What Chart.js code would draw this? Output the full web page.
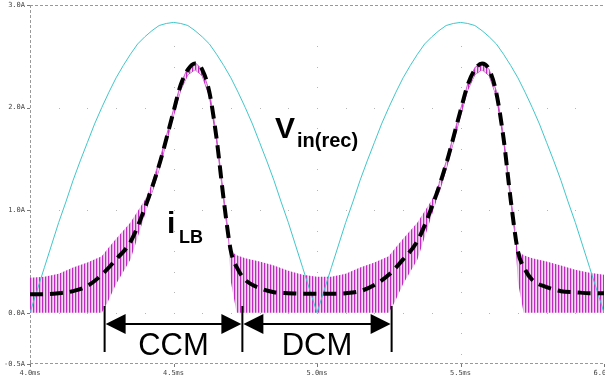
<!DOCTYPE html>
<html>
<head>
<meta charset="utf-8">
<script src="https://cdn.jsdelivr.net/npm/chart.js@4.4.1/dist/chart.umd.min.js"></script>
<style>
  html, body { margin: 0; padding: 0; background: #fff; }
</style>
</head>
<body>
<canvas id="boostChart" width="605" height="381"></canvas>
<script>
// axis ticks
const xTicks = [4.0, 4.5, 5.0, 5.5, 6.0];        // ms
const yTicks = [-0.5, 0.0, 1.0, 2.0, 3.0];       // A

// rectified input voltage, one sample every 0.025 ms from 4.0 ms
const vinValues = [
  0.00, 0.22, 0.44, 0.66, 0.88, 1.08, 1.29, 1.48, 1.66, 1.84,
  2.00, 2.15, 2.29, 2.41, 2.52, 2.62, 2.69, 2.75, 2.80, 2.82,
  2.83, 2.82, 2.80, 2.75, 2.69, 2.62, 2.52, 2.41, 2.29, 2.15,
  2.00, 1.84, 1.66, 1.48, 1.29, 1.08, 0.88, 0.66, 0.44, 0.22,
  0.00, 0.22, 0.44, 0.66, 0.88, 1.08, 1.29, 1.48, 1.66, 1.84,
  2.00, 2.15, 2.29, 2.41, 2.52, 2.62, 2.69, 2.75, 2.80, 2.82,
  2.83, 2.82, 2.80, 2.75, 2.69, 2.62, 2.52, 2.41, 2.29, 2.15,
  2.00, 1.84, 1.66, 1.48, 1.29, 1.08, 0.88, 0.66, 0.44, 0.22,
  0.00
];
const vinStart = 4.0;
const vinStep = 0.025;

// averaged inductor current (dashed)
const avgTime = [
  4.000, 4.050, 4.100, 4.150, 4.200, 4.250, 4.300, 4.350, 4.400, 4.450,
  4.500, 4.525, 4.550, 4.575, 4.600, 4.625, 4.650, 4.675, 4.700, 4.725,
  4.750, 4.800, 4.850, 4.900, 4.950, 5.000, 5.050, 5.100, 5.150, 5.200,
  5.250, 5.300, 5.350, 5.400, 5.450, 5.500, 5.525, 5.550, 5.575, 5.600,
  5.625, 5.650, 5.675, 5.700, 5.725, 5.750, 5.800, 5.850, 5.900, 5.950,
  6.000
];
const avgCurrent = [
  0.18, 0.18, 0.19, 0.21, 0.26, 0.37, 0.52, 0.69, 1.02, 1.44,
  1.96, 2.22, 2.37, 2.43, 2.37, 2.15, 1.70, 1.10, 0.60, 0.42,
  0.32, 0.24, 0.20, 0.19, 0.185, 0.185, 0.185, 0.19, 0.21, 0.27,
  0.37, 0.52, 0.70, 1.03, 1.45, 1.97, 2.22, 2.37, 2.43, 2.37,
  2.14, 1.70, 1.10, 0.60, 0.42, 0.32, 0.25, 0.21, 0.20, 0.19,
  0.19
];

// switching ripple of iLB: valley and peak envelopes
const iTime = [
  4.000, 4.050, 4.100, 4.150, 4.200, 4.250, 4.270, 4.300, 4.350, 4.400,
  4.425, 4.450, 4.475, 4.500, 4.525, 4.550, 4.575, 4.600, 4.625, 4.650,
  4.675, 4.690, 4.700, 4.720, 4.750, 4.800, 4.850, 4.900, 4.950, 5.000,
  5.050, 5.100, 5.150, 5.200, 5.250, 5.270, 5.300, 5.350, 5.400, 5.425,
  5.450, 5.475, 5.500, 5.525, 5.550, 5.575, 5.600, 5.625, 5.650, 5.675,
  5.690, 5.700, 5.720, 5.750, 5.800, 5.850, 5.900, 5.950, 6.000
];
const iValley = [
  0.00, 0.00, 0.00, 0.00, 0.00, 0.00, 0.10, 0.28, 0.52, 0.95,
  1.17, 1.40, 1.66, 1.92, 2.17, 2.32, 2.37, 2.31, 2.11, 1.68,
  1.09, 0.76, 0.30, 0.00, 0.00, 0.00, 0.00, 0.00, 0.00, 0.00,
  0.00, 0.00, 0.00, 0.00, 0.00, 0.10, 0.28, 0.52, 0.95, 1.17,
  1.40, 1.66, 1.92, 2.17, 2.32, 2.37, 2.31, 2.11, 1.68, 1.09,
  0.76, 0.30, 0.00, 0.00, 0.00, 0.00, 0.00, 0.00, 0.00
];
const iPeak = [
  0.34, 0.35, 0.38, 0.44, 0.49, 0.55, 0.62, 0.72, 0.88, 1.10,
  1.26, 1.47, 1.72, 1.98, 2.23, 2.39, 2.44, 2.37, 2.16, 1.72,
  1.13, 0.80, 0.60, 0.56, 0.53, 0.50, 0.46, 0.41, 0.37, 0.35,
  0.35, 0.38, 0.44, 0.49, 0.55, 0.62, 0.72, 0.88, 1.10, 1.26,
  1.47, 1.72, 1.98, 2.23, 2.39, 2.44, 2.37, 2.16, 1.72, 1.13,
  0.80, 0.60, 0.56, 0.53, 0.50, 0.46, 0.42, 0.39, 0.37
];

// CCM / DCM interval markers (ms)
const ccmStart = 4.26;
const ccmEnd = 4.74;
const dcmEnd = 5.26;

const toPoints = (xs, ys) => xs.map((t, i) => ({ x: t, y: ys[i] }));
const vinPoints = vinValues.map((v, i) => ({ x: vinStart + i * vinStep, y: v }));

// vertical stripes for the dense switching waveform
function stripePattern() {
  const c = document.createElement('canvas');
  c.width = 3; c.height = 1;
  const g = c.getContext('2d');
  g.fillStyle = '#bf2abf'; g.fillRect(0, 0, 1, 1);
  g.fillStyle = '#e2aee2'; g.fillRect(1, 0, 1, 1);
  g.fillStyle = '#f2d8f2'; g.fillRect(2, 0, 1, 1);
  return g.createPattern(c, 'repeat');
}

// outline only where the ripple band collapses to a thin trace
const thinOnly = color => ctx => {
  const i = ctx.p0DataIndex;
  const wide = iPeak[i] - iValley[i] > 0.12 || iPeak[i + 1] - iValley[i + 1] > 0.12;
  return wide ? 'rgba(0,0,0,0)' : color;
};

const tickFont = { family: '"DejaVu Sans Mono", monospace', size: 7 };

// scope-like frame and dotted grid
const scopeGrid = {
  id: 'scopeGrid',
  beforeDatasetsDraw(chart) {
    const { ctx, chartArea: a, scales: { x, y } } = chart;
    ctx.save();
    ctx.strokeStyle = '#999';
    ctx.lineWidth = 1;
    ctx.setLineDash([3, 2]);
    ctx.beginPath();
    ctx.moveTo(a.left, Math.round(a.top) + 0.5);
    ctx.lineTo(a.right, Math.round(a.top) + 0.5);
    ctx.moveTo(a.left, Math.round(a.bottom) - 0.5);
    ctx.lineTo(a.right, Math.round(a.bottom) - 0.5);
    ctx.moveTo(Math.round(a.left) + 0.5, a.top);
    ctx.lineTo(Math.round(a.left) + 0.5, a.bottom);
    ctx.stroke();
    ctx.setLineDash([]);

    ctx.fillStyle = '#b4b4b4';
    [0, 1, 2].forEach(v => {
      const py = Math.round(y.getPixelForValue(v));
      for (let k = 1; k < 20; k++) {
        ctx.fillRect(Math.round(x.getPixelForValue(4 + k * 0.1)), py, 1, 1);
      }
    });
    [4.5, 5.0, 5.5].forEach(t => {
      const px = Math.round(x.getPixelForValue(t));
      for (let k = 1; k < 17; k++) {
        ctx.fillRect(px, Math.round(y.getPixelForValue(-0.6 + k * 0.2)), 1, 1);
      }
    });

    // small tick marks
    ctx.strokeStyle = '#777';
    ctx.beginPath();
    yTicks.forEach(v => {
      const py = Math.round(y.getPixelForValue(v)) + 0.5;
      ctx.moveTo(a.left - 3, py); ctx.lineTo(a.left, py);
    });
    xTicks.forEach(t => {
      const px = Math.round(x.getPixelForValue(t)) + 0.5;
      ctx.moveTo(px, a.bottom); ctx.lineTo(px, a.bottom + 3);
    });
    ctx.stroke();
    ctx.restore();
  }
};

// labels and CCM / DCM arrows
const notes = {
  id: 'notes',
  afterDatasetsDraw(chart) {
    const { ctx, scales: { x, y } } = chart;
    ctx.save();
    ctx.fillStyle = '#000';
    ctx.strokeStyle = '#000';
    ctx.textBaseline = 'alphabetic';

    ctx.font = 'bold 30px "Liberation Sans", Arial, sans-serif';
    ctx.fillText('V', 275, 138);
    ctx.font = 'bold 20px "Liberation Sans", Arial, sans-serif';
    ctx.fillText('in(rec)', 297, 147);

    ctx.font = 'bold 30px "Liberation Sans", Arial, sans-serif';
    ctx.fillText('i', 167, 233);
    ctx.font = 'bold 18px "Liberation Sans", Arial, sans-serif';
    ctx.fillText('LB', 179, 243);

    const ay = Math.round(y.getPixelForValue(-0.11));
    const x0 = x.getPixelForValue(ccmStart);
    const x1 = x.getPixelForValue(ccmEnd);
    const x2 = x.getPixelForValue(dcmEnd);

    ctx.lineWidth = 2;
    ctx.beginPath();
    [x0, x1, x2].forEach(px => {
      ctx.moveTo(px, 306); ctx.lineTo(px, 352);
    });
    ctx.moveTo(x0 + 10, ay); ctx.lineTo(x1 - 10, ay);
    ctx.moveTo(x1 + 10, ay); ctx.lineTo(x2 - 10, ay);
    ctx.stroke();

    const head = (tip, dir) => {
      ctx.beginPath();
      ctx.moveTo(tip, ay);
      ctx.lineTo(tip + dir * 20, ay - 10);
      ctx.lineTo(tip + dir * 20, ay + 10);
      ctx.closePath();
      ctx.fill();
    };
    head(x0 + 1, 1);
    head(x1 - 1, -1);
    head(x1 + 1, 1);
    head(x2 - 1, -1);

    ctx.font = '31px "Liberation Sans", Arial, sans-serif';
    ctx.textAlign = 'center';
    ctx.fillText('CCM', (x0 + x1) / 2, 355);
    ctx.fillText('DCM', (x1 + x2) / 2, 355);
    ctx.restore();
  }
};

new Chart(document.getElementById('boostChart'), {
  type: 'line',
  data: {
    datasets: [
      {
        label: 'iLB avg',
        data: toPoints(avgTime, avgCurrent),
        borderColor: '#000',
        borderWidth: 4,
        borderDash: [13, 7],
        borderCapStyle: 'butt',
        cubicInterpolationMode: 'monotone',
        fill: false,
        order: 0
      },
      {
        label: 'Vin(rec)',
        data: vinPoints,
        borderColor: '#40c6ca',
        borderWidth: 1,
        tension: 0,
        fill: false,
        order: 1
      },
      {
        label: 'iLB peak',
        data: toPoints(iTime, iPeak),
        borderColor: '#cc5acc',
        borderWidth: 1,
        segment: { borderColor: thinOnly('#cc5acc') },
        backgroundColor: stripePattern(),
        fill: '+1',
        tension: 0,
        order: 2
      },
      {
        label: 'iLB valley',
        data: toPoints(iTime, iValley),
        borderColor: '#c040c0',
        borderWidth: 1,
        segment: { borderColor: thinOnly('#c040c0') },
        tension: 0,
        fill: false,
        order: 3
      }
    ]
  },
  options: {
    responsive: false,
    animation: false,
    layout: { padding: { top: 5, right: 1, left: 0, bottom: 0 } },
    elements: { point: { radius: 0 } },
    plugins: {
      legend: { display: false },
      tooltip: { enabled: false }
    },
    scales: {
      x: {
        type: 'linear',
        min: 4,
        max: 6,
        afterBuildTicks: s => { s.ticks = xTicks.map(v => ({ value: v })); },
        afterFit: s => { s.height = 17; s.paddingLeft = 0; s.paddingRight = 0; },
        grid: { display: false, drawTicks: true, tickLength: 3 },
        border: { display: false },
        ticks: {
          padding: 2,
          maxRotation: 0,
          autoSkip: false,
          color: '#444',
          font: tickFont,
          callback: v => v.toFixed(1) + 'ms'
        }
      },
      y: {
        type: 'linear',
        min: -0.5,
        max: 3,
        afterBuildTicks: s => { s.ticks = yTicks.map(v => ({ value: v })); },
        afterFit: s => { s.width = 30; s.paddingTop = 0; s.paddingBottom = 0; },
        grid: { display: false, drawTicks: true, tickLength: 3 },
        border: { display: false },
        ticks: {
          padding: 2,
          color: '#444',
          font: tickFont,
          callback: v => v.toFixed(1) + 'A'
        }
      }
    }
  },
  plugins: [scopeGrid, notes]
});
</script>
</body>
</html>
